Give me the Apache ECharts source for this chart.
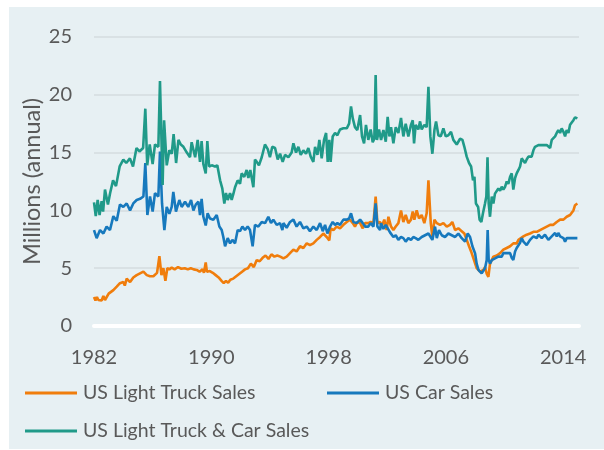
<!DOCTYPE html>
<html>
<head>
<meta charset="utf-8">
<title>US light vehicle sales</title>
<script src="https://cdn.jsdelivr.net/npm/echarts@6/dist/echarts.min.js"></script>
<style>
  html, body { margin: 0; padding: 0; background: #fff; }
  #chart { width: 604px; height: 450px; }
</style>
</head>
<body>
<div id="chart"></div>
<script>
// [year, millions annualised]
const truckSales = [
  [1982.0,2.5],[1982.1,2.2],[1982.2,2.5],[1982.3,2.25],[1982.41,2.4],[1982.52,2.2],[1982.64,2.6],[1982.75,2.25],
  [1982.86,2.2],[1983.0,2.8],[1983.09,2.9],[1983.32,3.1],[1983.55,3.4],[1983.77,3.7],[1984.0,3.8],[1984.1,3.5],
  [1984.23,4.1],[1984.46,3.8],[1984.68,4.2],[1984.91,4.4],[1985.14,4.55],[1985.37,4.7],[1985.6,4.4],[1985.82,4.3],
  [1986.05,4.3],[1986.3,4.6],[1986.46,6.05],[1986.6,4.4],[1986.73,5.0],[1986.87,3.9],[1987.0,5.0],[1987.14,4.9],
  [1987.3,5.05],[1987.5,4.9],[1987.73,5.1],[1987.96,4.95],[1988.19,5.0],[1988.4,4.9],[1988.6,5.0],[1988.8,4.9],
  [1989.0,4.85],[1989.2,4.7],[1989.4,4.9],[1989.5,4.6],[1989.62,5.5],[1989.7,4.7],[1989.9,4.75],[1990.1,4.6],
  [1990.3,4.4],[1990.5,4.2],[1990.7,3.9],[1990.85,3.7],[1991.0,3.9],[1991.15,3.75],[1991.3,4.0],[1991.5,4.1],
  [1991.7,4.3],[1991.9,4.5],[1992.1,4.7],[1992.3,4.9],[1992.5,5.0],[1992.7,5.4],[1992.9,5.1],[1993.1,5.7],
  [1993.3,5.6],[1993.5,5.9],[1993.7,6.1],[1993.9,5.8],[1994.1,6.2],[1994.3,6.0],[1994.5,6.1],[1994.7,6.0],
  [1994.92,5.85],[1995.14,6.0],[1995.37,6.3],[1995.6,6.6],[1995.82,6.45],[1996.05,6.9],[1996.28,6.75],[1996.51,7.15],
  [1996.73,7.0],[1996.96,7.15],[1997.19,7.45],[1997.42,7.7],[1997.64,8.0],[1997.87,7.7],[1998.05,7.4],[1998.14,8.45],
  [1998.33,8.3],[1998.55,8.6],[1998.78,8.45],[1999.01,8.75],[1999.24,9.0],[1999.46,9.2],[1999.65,8.9],[1999.8,8.6],
  [1999.96,9.0],[2000.15,8.9],[2000.33,8.45],[2000.49,8.9],[2000.71,8.9],[2000.87,9.0],[2001.06,8.9],[2001.21,11.2],
  [2001.33,8.9],[2001.51,9.0],[2001.62,8.6],[2001.8,9.2],[2001.96,8.3],[2002.08,9.45],[2002.26,8.6],[2002.42,8.3],
  [2002.58,8.6],[2002.76,8.9],[2002.94,10.0],[2003.1,9.0],[2003.26,9.6],[2003.44,8.9],[2003.62,9.2],[2003.74,9.9],
  [2003.85,9.2],[2004.01,10.0],[2004.17,9.3],[2004.35,9.6],[2004.53,8.9],[2004.69,9.75],[2004.81,12.6],[2004.97,8.9],
  [2005.08,7.7],[2005.22,9.2],[2005.38,8.9],[2005.6,8.75],[2005.83,8.9],[2006.06,8.6],[2006.28,8.75],[2006.44,9.0],
  [2006.63,8.3],[2006.85,8.45],[2007.08,8.2],[2007.26,8.0],[2007.42,7.45],[2007.58,6.9],[2007.72,6.45],[2007.88,5.85],
  [2007.99,5.7],[2008.1,5.0],[2008.33,4.7],[2008.56,4.85],[2008.67,5.1],[2008.79,4.5],[2008.9,4.25],[2009.01,5.4],
  [2009.13,5.7],[2009.24,6.0],[2009.47,6.1],[2009.7,6.3],[2009.92,6.6],[2010.15,6.75],[2010.26,6.6],[2010.38,6.9],
  [2010.6,7.15],[2010.83,7.15],[2010.95,7.45],[2011.06,7.6],[2011.29,7.75],[2011.51,7.9],[2011.74,8.0],[2011.97,8.15],
  [2012.2,8.15],[2012.42,8.3],[2012.65,8.45],[2012.88,8.6],[2013.11,8.75],[2013.33,8.75],[2013.56,9.0],[2013.79,9.2],
  [2014.02,9.2],[2014.24,9.45],[2014.47,9.6],[2014.7,10.0],[2014.81,10.45],[2014.97,10.6]
];

const carSales = [
  [1982.0,8.3],[1982.18,7.6],[1982.41,8.3],[1982.64,8.0],[1982.86,8.6],[1983.09,8.3],[1983.32,9.5],[1983.55,9.1],
  [1983.77,10.5],[1984.0,10.3],[1984.23,10.6],[1984.46,10.0],[1984.68,10.6],[1984.91,10.9],[1985.14,11.0],[1985.37,11.2],
  [1985.5,14.1],[1985.64,9.6],[1985.82,11.2],[1986.0,9.9],[1986.16,11.5],[1986.39,11.2],[1986.5,15.1],[1986.64,10.6],
  [1986.8,8.3],[1986.96,10.3],[1987.14,9.7],[1987.3,10.3],[1987.41,11.6],[1987.59,9.9],[1987.82,10.9],[1987.98,10.3],
  [1988.21,10.75],[1988.43,10.3],[1988.62,10.9],[1988.78,10.0],[1988.94,10.5],[1989.12,10.75],[1989.23,9.6],[1989.34,11.0],
  [1989.46,9.45],[1989.62,8.7],[1989.75,9.75],[1989.91,9.3],[1990.14,9.2],[1990.37,9.6],[1990.55,8.6],[1990.71,8.3],
  [1990.82,7.7],[1990.94,6.9],[1991.12,7.6],[1991.28,7.15],[1991.44,7.45],[1991.62,7.15],[1991.8,8.3],[1991.96,8.2],
  [1992.12,8.6],[1992.3,8.3],[1992.48,8.6],[1992.64,8.3],[1992.82,6.9],[1992.98,8.75],[1993.21,8.6],[1993.44,9.0],
  [1993.67,8.9],[1993.89,9.45],[1994.07,8.9],[1994.23,9.2],[1994.46,8.75],[1994.69,8.9],[1994.85,8.3],[1994.92,8.9],
  [1995.14,8.5],[1995.37,9.0],[1995.6,9.2],[1995.82,8.6],[1996.05,9.0],[1996.28,8.45],[1996.51,8.6],[1996.73,8.2],
  [1996.96,8.6],[1997.19,8.3],[1997.42,8.9],[1997.6,8.2],[1997.76,8.75],[1997.92,8.0],[1998.1,8.6],[1998.28,9.0],
  [1998.44,8.75],[1998.6,8.9],[1998.78,8.75],[1999.01,9.2],[1999.24,9.2],[1999.4,9.3],[1999.53,9.75],[1999.69,9.0],
  [1999.92,8.9],[2000.15,9.2],[2000.33,8.9],[2000.49,8.6],[2000.71,8.6],[2000.87,8.9],[2001.06,8.6],[2001.21,10.6],
  [2001.33,8.6],[2001.51,8.3],[2001.58,8.9],[2001.74,8.4],[2001.9,8.75],[2002.03,8.6],[2002.19,8.1],[2002.42,7.7],
  [2002.58,7.85],[2002.76,7.45],[2002.94,7.7],[2003.1,7.6],[2003.26,7.3],[2003.44,7.6],[2003.62,7.45],[2003.78,7.7],
  [2003.94,7.6],[2004.12,7.45],[2004.35,7.7],[2004.58,7.85],[2004.81,8.0],[2004.92,7.85],[2005.08,7.45],[2005.26,8.6],
  [2005.38,7.6],[2005.53,8.3],[2005.72,7.85],[2005.94,7.7],[2006.17,8.0],[2006.4,7.85],[2006.63,7.7],[2006.85,8.0],
  [2007.08,7.6],[2007.31,7.3],[2007.49,8.0],[2007.65,7.7],[2007.81,6.9],[2007.99,6.3],[2008.1,5.4],[2008.22,4.85],
  [2008.33,4.7],[2008.44,4.55],[2008.56,4.7],[2008.67,5.0],[2008.785,5.7],[2008.85,8.3],[2008.92,5.7],[2009.01,5.4],
  [2009.13,5.7],[2009.24,5.55],[2009.35,5.85],[2009.47,5.7],[2009.58,6.0],[2009.7,5.85],[2009.81,6.0],[2009.92,6.3],
  [2010.04,6.45],[2010.15,6.3],[2010.26,6.45],[2010.38,6.3],[2010.49,5.9],[2010.6,5.7],[2010.72,6.45],[2010.83,6.75],
  [2010.95,6.9],[2011.06,7.2],[2011.17,7.6],[2011.29,7.3],[2011.4,7.15],[2011.51,7.0],[2011.63,7.15],[2011.74,7.45],
  [2011.85,7.6],[2011.97,7.75],[2012.08,7.75],[2012.2,7.6],[2012.31,7.9],[2012.42,7.75],[2012.54,7.6],[2012.65,7.75],
  [2012.76,7.9],[2012.88,7.75],[2012.99,7.45],[2013.11,7.6],[2013.22,7.75],[2013.33,7.9],[2013.45,8.05],[2013.56,7.75],
  [2013.67,8.05],[2013.79,7.75],[2013.9,7.9],[2014.02,7.6],[2014.13,7.3],[2014.24,7.6],[2014.36,7.45],[2014.47,7.6],
  [2014.58,7.75],[2014.7,7.6],[2014.81,7.75],[2014.97,7.6]
];

const totalSales = [
  [1982.0,10.7],[1982.12,9.5],[1982.25,10.9],[1982.38,9.6],[1982.52,10.8],[1982.62,9.9],[1982.75,11.8],[1982.95,10.5],
  [1983.1,11.5],[1983.3,12.6],[1983.5,12.1],[1983.75,13.8],[1984.0,14.4],[1984.2,14.1],[1984.45,14.5],[1984.66,13.8],
  [1984.9,15.4],[1985.1,15.1],[1985.35,15.4],[1985.5,18.8],[1985.63,13.9],[1985.8,15.7],[1986.0,14.0],[1986.16,15.7],
  [1986.39,15.5],[1986.5,21.2],[1986.68,12.2],[1986.78,17.8],[1986.96,13.9],[1987.14,15.2],[1987.3,14.9],[1987.43,16.6],
  [1987.6,14.1],[1987.76,16.1],[1987.92,15.7],[1988.1,15.5],[1988.33,15.0],[1988.55,14.6],[1988.66,15.9],[1988.9,14.6],
  [1989.07,16.1],[1989.23,14.2],[1989.34,16.0],[1989.46,14.0],[1989.62,13.2],[1989.73,16.0],[1989.85,13.8],[1990.03,13.9],
  [1990.25,13.8],[1990.41,13.9],[1990.6,12.6],[1990.75,11.9],[1990.89,10.6],[1991.0,11.5],[1991.12,10.9],[1991.28,11.5],
  [1991.39,10.9],[1991.5,11.4],[1991.62,12.0],[1991.8,12.6],[1991.96,12.3],[1992.07,13.2],[1992.25,12.9],[1992.41,13.5],
  [1992.53,12.8],[1992.66,13.5],[1992.87,12.0],[1992.98,14.4],[1993.1,14.2],[1993.25,13.9],[1993.44,14.6],[1993.66,15.7],
  [1993.85,15.3],[1994.0,14.6],[1994.16,15.5],[1994.35,15.4],[1994.53,14.4],[1994.69,14.9],[1994.87,14.2],[1995.03,14.8],
  [1995.26,14.6],[1995.48,15.0],[1995.6,15.8],[1995.78,15.0],[1995.94,15.5],[1996.1,14.8],[1996.28,15.2],[1996.46,14.9],
  [1996.62,15.4],[1996.78,14.65],[1996.96,14.2],[1997.08,15.5],[1997.24,14.8],[1997.37,16.1],[1997.53,14.5],[1997.69,16.1],
  [1997.83,16.7],[1997.94,14.2],[1998.05,16.1],[1998.14,14.2],[1998.28,16.4],[1998.44,16.7],[1998.6,16.5],[1998.78,17.0],
  [1999.01,17.1],[1999.24,17.1],[1999.4,17.5],[1999.53,19.0],[1999.65,17.96],[1999.8,17.2],[1999.96,16.95],[2000.15,18.25],
  [2000.28,16.4],[2000.42,15.8],[2000.55,17.4],[2000.71,16.1],[2000.87,17.0],[2001.01,15.9],[2001.12,16.2],[2001.21,21.7],
  [2001.3,16.1],[2001.44,17.0],[2001.58,16.1],[2001.74,16.95],[2001.9,15.95],[2002.03,18.1],[2002.15,16.4],[2002.26,17.2],
  [2002.42,15.8],[2002.58,17.2],[2002.76,16.7],[2002.94,18.0],[2003.1,16.4],[2003.26,17.5],[2003.44,16.4],[2003.62,17.4],
  [2003.74,17.8],[2003.83,15.8],[2003.94,17.4],[2004.12,17.0],[2004.24,17.7],[2004.35,17.0],[2004.53,17.4],[2004.69,17.2],
  [2004.81,20.7],[2004.94,16.4],[2005.08,14.9],[2005.22,16.95],[2005.33,17.7],[2005.49,16.5],[2005.65,16.4],[2005.83,17.1],
  [2005.99,16.4],[2006.17,16.5],[2006.35,16.8],[2006.51,16.1],[2006.74,15.7],[2006.97,16.2],[2007.13,16.1],[2007.26,15.5],
  [2007.42,14.65],[2007.58,14.1],[2007.72,13.8],[2007.85,12.6],[2007.95,12.9],[2008.05,10.6],[2008.2,10.3],[2008.3,9.2],
  [2008.42,9.0],[2008.53,9.75],[2008.67,10.6],[2008.76,11.2],[2008.84,14.6],[2008.92,10.6],[2009.01,9.45],[2009.13,11.2],
  [2009.24,10.6],[2009.35,11.45],[2009.47,11.6],[2009.58,11.9],[2009.7,11.7],[2009.81,12.05],[2009.92,11.8],[2010.04,12.05],
  [2010.15,12.5],[2010.26,12.3],[2010.38,12.9],[2010.49,13.2],[2010.6,11.8],[2010.72,12.8],[2010.83,13.2],[2010.95,13.5],
  [2011.06,13.8],[2011.17,14.5],[2011.29,14.5],[2011.4,14.1],[2011.51,14.4],[2011.63,14.65],[2011.74,14.8],[2011.85,14.65],
  [2011.97,15.2],[2012.08,15.5],[2012.2,15.5],[2012.31,15.65],[2012.42,15.5],[2012.65,15.65],[2012.88,15.65],[2013.11,15.4],
  [2013.22,16.1],[2013.33,16.25],[2013.45,16.4],[2013.56,16.7],[2013.67,16.95],[2013.79,16.7],[2013.9,17.1],[2014.02,16.8],
  [2014.13,16.4],[2014.24,16.95],[2014.36,16.7],[2014.47,17.4],[2014.58,17.25],[2014.7,17.8],[2014.81,18.05],[2014.97,17.96]
];

const seriesNames = ['US Light Truck Sales', 'US Car Sales', 'US Light Truck & Car Sales'];
const seriesColors = ['#F07D0C', '#1779BD', '#209A89'];
const startYear = 1982;
const yearStep = 8;

const FONT = 'Lato, "Open Sans", sans-serif';
const TEXT = '#595959';

// x is years since 1982 so ticks land on 1982, 1990, ... 2014
function toPoints(rows) {
  return rows.map(r => [r[0] - startYear, r[1]]);
}

const myChart = echarts.init(document.getElementById('chart'), null, { renderer: 'canvas' });

const option = {
  backgroundColor: '#ffffff',
  animation: false,
  textStyle: { fontFamily: FONT },
  graphic: [{
    type: 'rect',
    z: -100,
    silent: true,
    shape: { x: 9, y: 7, width: 595, height: 442 },
    style: { fill: '#E7F0F3' }
  }],
  grid: { left: 94, right: 25, top: 37, bottom: 124 },
  legend: [
    { data: [seriesNames[0]], left: 25, top: 383 },
    { data: [seriesNames[1]], left: 327, top: 383 },
    { data: [seriesNames[2]], left: 25, top: 421 }
  ].map(l => Object.assign(l, {
    padding: 0,
    itemWidth: 52,
    itemHeight: 3,
    itemGap: 0,
    icon: 'rect',
    textStyle: { fontFamily: FONT, fontSize: 19.5, color: TEXT, padding: [0, 0, 0, 1] }
  })),
  xAxis: {
    type: 'value',
    min: 0,
    max: 33.08,
    interval: yearStep,
    axisLine: { show: true, lineStyle: { color: '#ffffff', width: 4 } },
    axisTick: { show: false },
    splitLine: { show: false },
    axisLabel: {
      color: TEXT,
      fontFamily: FONT,
      fontSize: 20,
      margin: 22,
      showMaxLabel: false,
      formatter: v => (v % yearStep === 0 ? String(startYear + v) : '')
    }
  },
  yAxis: {
    type: 'value',
    min: 0,
    max: 25,
    interval: 5,
    name: 'Millions (annual)',
    nameLocation: 'middle',
    nameGap: 50,
    nameMoveOverlap: false,
    nameTextStyle: { color: TEXT, fontFamily: FONT, fontSize: 23.5 },
    axisLine: { show: false },
    axisTick: { show: false },
    axisLabel: { color: TEXT, fontFamily: FONT, fontSize: 20, margin: 22 },
    splitLine: { lineStyle: { color: '#D5DCDF', width: 1.5 } }
  },
  series: [truckSales, carSales, totalSales].map((rows, i) => ({
    name: seriesNames[i],
    type: 'line',
    data: toPoints(rows),
    showSymbol: false,
    symbol: 'none',
    color: seriesColors[i],
    lineStyle: { color: seriesColors[i], width: 2.6 },
    z: 2 + i
  }))
};

myChart.setOption(option, true);
window.addEventListener('resize', () => myChart.resize());
</script>
</body>
</html>
